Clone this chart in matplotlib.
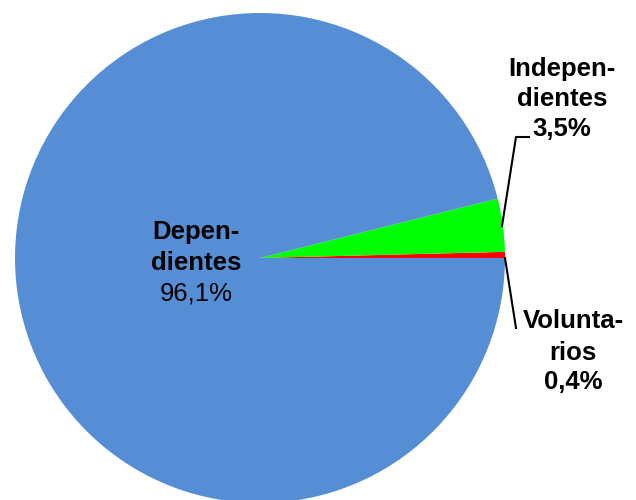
import matplotlib.pyplot as plt

labels = ["Voluntarios", "Independientes", "Dependientes"]
values = [0.4, 3.5, 96.1]
colors = ["#FF0000", "#00FF00", "#558ED5"]

plt.rcParams['font.family'] = ['Liberation Sans', 'DejaVu Sans']

fig = plt.figure(figsize=(6.36, 5), dpi=100)
# pie centre ~ (260, 258) px, radius ~ 245 px
cx, cy, r = 260, 258, 245
ax = fig.add_axes([(cx - r) / 636, (500 - cy - r) / 500, 2 * r / 636, 2 * r / 500])
ax.pie(values, colors=colors, startangle=0, counterclock=True, radius=1,
       wedgeprops=dict(linewidth=0))
ax.set_xlim(-1, 1)
ax.set_ylim(-1, 1)
ax.set_aspect('equal')
ax.axis('off')


def px(x, y):
    return (x - cx) / r, (cy - y) / r


def lines(x, ys, texts, weights):
    for y, t, w in zip(ys, texts, weights):
        ax.text(*px(x, y), t, ha='center', va='center', fontsize=18.5,
                fontweight=w, clip_on=False)


# Dependientes label inside
lines(196, [232, 263, 294], ["Depen-", "dientes", "96,1%"],
      ['bold', 'bold', 'normal'])

# Independientes
lines(562, [69, 99, 129], ["Indepen-", "dientes", "3,5%"], ['bold'] * 3)
x1, y1 = px(502, 226)
x2, y2 = px(516, 137)
x3, y3 = px(529, 137)
ax.plot([x1, x2, x3], [y1, y2, y3], color='black', lw=1.5, clip_on=False)

# Voluntarios
lines(573, [321, 353, 382], ["Volunta-", "rios", "0,4%"], ['bold'] * 3)
x1, y1 = px(505, 258)
x2, y2 = px(516, 328)
ax.plot([x1, x2], [y1, y2], color='black', lw=1.5, clip_on=False)

fig.savefig("out.png", dpi=100)
